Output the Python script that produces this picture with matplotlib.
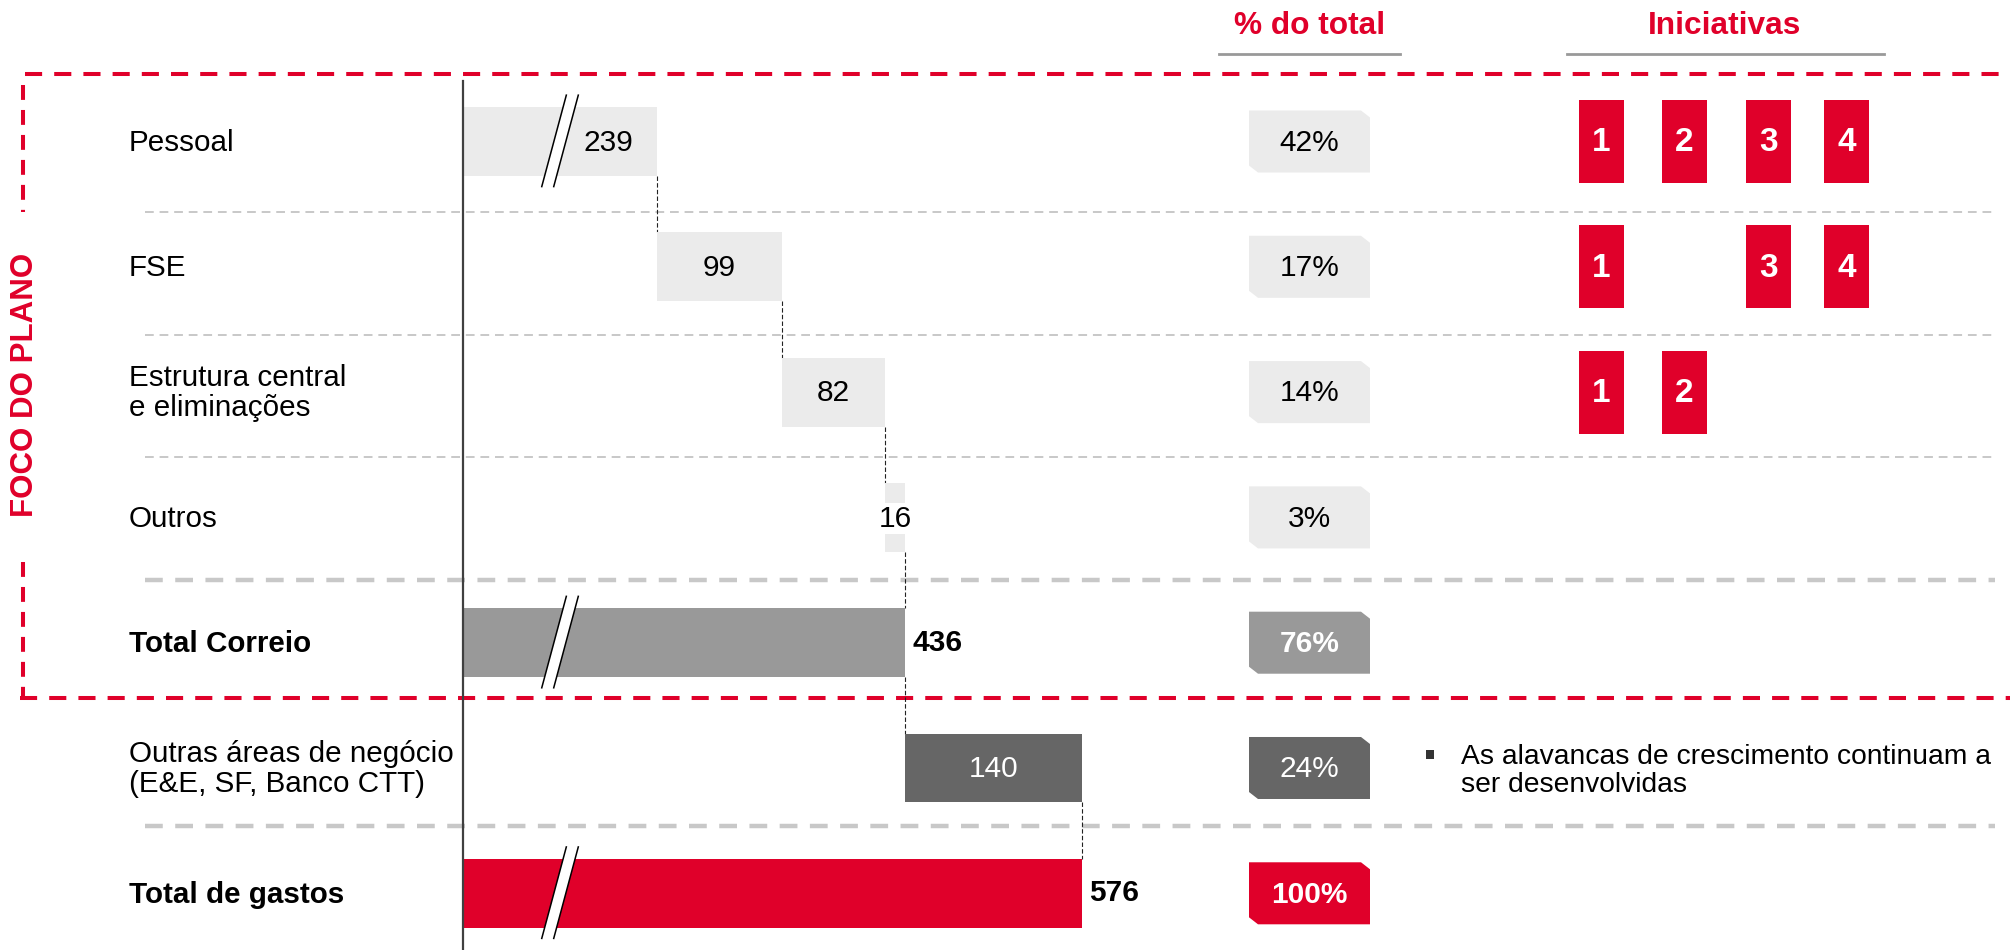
import numpy as np
import matplotlib.pyplot as plt
from matplotlib.patches import Polygon, Rectangle

plt.rcParams['font.family'] = ['Liberation Sans', 'DejaVu Sans']

RED = '#E0002A'
LIGHT = '#EBEBEB'

# chart data
labels = ['Pessoal', 'FSE', 'Estrutura central\ne eliminações', 'Outros',
          'Total Correio', 'Outras áreas de negócio\n(E&E, SF, Banco CTT)',
          'Total de gastos']
values = [239, 99, 82, 16, 436, 140, 576]
is_total = [False, False, False, False, True, False, True]
pct = [42, 17, 14, 3, 76, 24, 100]
initiatives = [[1, 2, 3, 4], [1, 3, 4], [1, 2], [], [], [], []]
bar_colors = [LIGHT, LIGHT, LIGHT, LIGHT, '#999999', '#666666', RED]
note = 'As alavancas de crescimento continuam a\nser desenvolvidas'

# layout (pixels of the 2010x950 picture)
W, H = 2010, 950
ROW0 = 141.5      # centre of first row
ROWH = 125.3      # row pitch
AXIS_X = 463      # where the value axis starts
PXU = 1.26        # pixels per unit
BREAK = 85        # value hidden by the axis break

y_top = -ROW0 / ROWH
y_bot = (H - ROW0) / ROWH
def row(px):
    return (px - ROW0) / ROWH

fig = plt.figure(figsize=(W / 100, H / 100), dpi=100)

# overlay axes: x in pixels, y in rows
ax = fig.add_axes([0, 0, 1, 1])
ax.set_xlim(0, W)
ax.set_ylim(y_bot, y_top)
ax.axis('off')

# bar axes: x in values, y in rows
axb = fig.add_axes([AXIS_X / W, 0, 1 - AXIS_X / W, 1])
axb.set_xlim(BREAK, BREAK + (W - AXIS_X) / PXU)
axb.set_ylim(y_bot, y_top)
axb.axis('off')

n = len(values)
ys = np.arange(n)

# waterfall starts
starts = []
run = 0
for v, tot in zip(values, is_total):
    if tot:
        starts.append(0)
        run = v
    else:
        starts.append(run)
        run += v
ends = [s + v for s, v in zip(starts, values)]

BAR_H = 0.55
axb.barh(ys, values, left=starts, height=BAR_H, color=bar_colors, zorder=2)

# axis line
axb.plot([BREAK, BREAK], [y_bot, row(81)], color='#404040', lw=1.6,
         clip_on=False, zorder=5)

# break marks on bars that start at zero
BRK_X, SLANT, GAP = 147.5, 19.5, 9.5
for i in range(n):
    if starts[i] == 0:
        yb, yt = i + 0.36, i - 0.37
        poly = Polygon([(BRK_X, yb), (BRK_X + SLANT, yt), (BRK_X + SLANT + GAP, yt),
                        (BRK_X + GAP, yb)], closed=True, facecolor='white',
                       edgecolor='none', zorder=3)
        axb.add_patch(poly)
        for dx in (0, GAP):
            axb.plot([BRK_X + dx, BRK_X + SLANT + dx], [yb, yt], color='black',
                     lw=1.1, zorder=4)

# connectors
for i in range(n - 1):
    x = ends[i]
    axb.plot([x, x], [i + BAR_H / 2, i + 1 - BAR_H / 2], color='#222222',
             lw=0.8, ls=(0, (4, 2)), zorder=1)

# value labels
brk_mid = BRK_X + (SLANT + GAP) / 2
for i in range(n):
    if is_total[i]:
        axb.text(ends[i] + 6, i, str(values[i]), ha='left', va='center',
                 fontsize=21.5, fontweight='bold', color='black', zorder=6)
    else:
        x0 = brk_mid if starts[i] == 0 else starts[i]
        xc = (x0 + ends[i]) / 2
        col = 'white' if bar_colors[i] == '#666666' else 'black'
        bbox = None
        if values[i] < 30:
            bbox = dict(facecolor='white', edgecolor='none', pad=1)
        axb.text(xc, i + 0.01, str(values[i]), ha='center', va='center',
                 fontsize=21.5, color=col, bbox=bbox, zorder=6)

# row labels
for i in range(n):
    ax.text(129, i + 0.01, labels[i], ha='left', va='center', fontsize=21.3,
            fontweight='bold' if is_total[i] else 'normal', linespacing=1.1)

# separators
for yy in (211.7, 334.7, 457.3):
    ax.plot([145, 1995], [row(yy)] * 2, color='#C8C8C8', lw=1.4,
            ls=(0, (4.5, 3)), zorder=0)
for yy in (580, 826):
    ax.plot([145, 1995], [row(yy)] * 2, color='#C8C8C8', lw=3.2,
            ls=(0, (4, 2.8)), zorder=0)

# red dashed focus frame
red_ls = (0, (4.25, 3))
ax.plot([25, W], [row(74)] * 2, color=RED, lw=2.9, ls=red_ls)
ax.plot([20, W], [row(698)] * 2, color=RED, lw=2.9, ls=red_ls)
ax.plot([23, 23], [row(85), row(212)], color=RED, lw=2.9, ls=(0, (3.7, 2.5)))
ax.plot([23, 23], [row(562), row(698)], color=RED, lw=2.9, ls=(0, (3.7, 2.5)))
ax.text(25, row(385), 'FOCO DO PLANO', rotation=90, ha='center', va='center',
        fontsize=22.5, fontweight='bold', color=RED)

# headers
ax.text(1310, row(25.5), '% do total', ha='center', va='center', fontsize=22.8,
        fontweight='bold', color=RED)
ax.text(1725, row(25.5), 'Iniciativas', ha='center', va='center', fontsize=22.8,
        fontweight='bold', color=RED)
ax.plot([1219, 1400], [row(54)] * 2, color='#999999', lw=2)
ax.plot([1567, 1884], [row(54)] * 2, color='#999999', lw=2)

# percentage boxes
PX0, PX1 = 1249, 1370
PH = 0.495 / 2
CX, CY = 9, 7 / ROWH
for i in range(n):
    pts = [(PX0, i - PH), (PX1 - CX, i - PH), (PX1, i - PH + CY), (PX1, i + PH),
           (PX0 + CX, i + PH), (PX0, i + PH - CY)]
    ax.add_patch(Polygon(pts, closed=True, facecolor=bar_colors[i], edgecolor='none'))
    tc = 'black' if bar_colors[i] == LIGHT else 'white'
    ax.text((PX0 + PX1) / 2, i + 0.01, '%d%%' % pct[i], ha='center', va='center',
            fontsize=21.5, color=tc, fontweight='bold' if is_total[i] else 'normal')

# initiative boxes
init_x = {1: 1601, 2: 1684.5, 3: 1768.5, 4: 1846.5}
IW, IH = 45, 0.662
for i in range(n):
    for k in initiatives[i]:
        ax.add_patch(Rectangle((init_x[k] - IW / 2, i - IH / 2), IW, IH,
                               facecolor=RED, edgecolor='none'))
        ax.text(init_x[k], i + 0.01, str(k), ha='center', va='center',
                fontsize=24, fontweight='bold', color='white')

# note next to other business areas
ax.add_patch(Rectangle((1426, row(750)), 8, 9 / ROWH, facecolor='#333333',
                       edgecolor='none'))
ax.text(1461, 5 + 0.02, note, ha='left', va='center', fontsize=20.3,
        linespacing=1.1)

fig.savefig('out.png', dpi=100)
